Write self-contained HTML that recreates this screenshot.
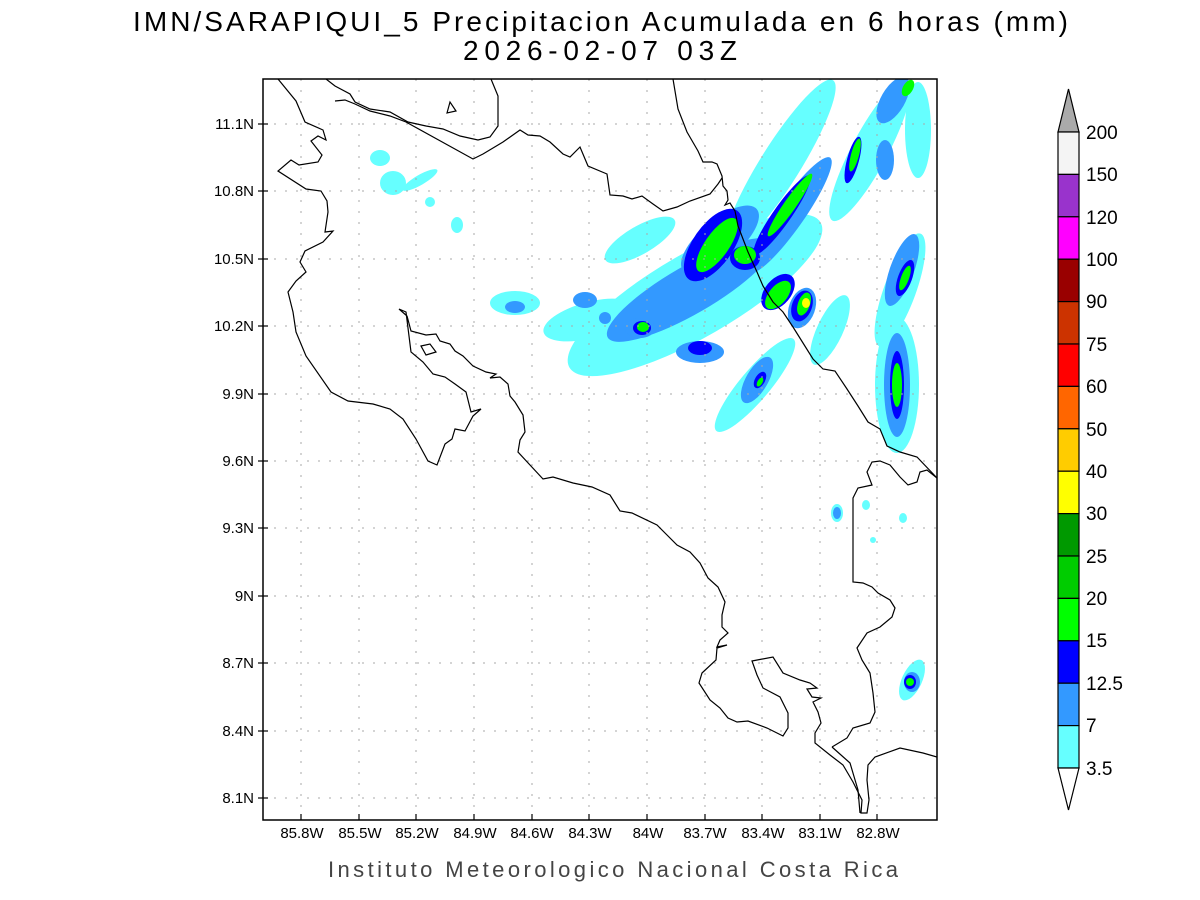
<!DOCTYPE html>
<html><head><meta charset="utf-8"><style>
html,body{margin:0;padding:0;background:#fff;}
svg{display:block;}
text{font-family:"Liberation Sans",sans-serif;fill:#000;}
</style></head><body>
<svg width="1200" height="900" viewBox="0 0 1200 900" xmlns="http://www.w3.org/2000/svg">
<rect width="1200" height="900" fill="#fff"/>
<text x="133" y="31" font-size="28" textLength="935" lengthAdjust="spacing">IMN/SARAPIQUI_5 Precipitacion Acumulada en 6 horas (mm)</text>
<text x="463" y="60" font-size="28" textLength="274" lengthAdjust="spacing">2026-02-07 03Z</text>
<defs><clipPath id="c"><rect x="263" y="79" width="674" height="741"/></clipPath></defs>
<g clip-path="url(#c)">
<g fill="#66ffff">
<ellipse cx="695" cy="295" rx="145" ry="42" transform="rotate(-30 695 295)"/>
<ellipse cx="640" cy="240" rx="40" ry="14" transform="rotate(-30 640 240)"/>
<ellipse cx="780" cy="165" rx="100" ry="20" transform="rotate(-58 780 165)"/>
<ellipse cx="870" cy="150" rx="80" ry="18" transform="rotate(-62 870 150)"/>
<ellipse cx="900" cy="290" rx="60" ry="16" transform="rotate(-70 900 290)"/>
<ellipse cx="897" cy="385" rx="22" ry="68"/>
<ellipse cx="755" cy="385" rx="60" ry="15" transform="rotate(-50 755 385)"/>
<ellipse cx="590" cy="320" rx="48" ry="18" transform="rotate(-15 590 320)"/>
<ellipse cx="515" cy="303" rx="25" ry="12"/>
<ellipse cx="918" cy="130" rx="13" ry="48"/>
<ellipse cx="830" cy="330" rx="13" ry="38" transform="rotate(25 830 330)"/>
<ellipse cx="380" cy="158" rx="10" ry="8"/>
<ellipse cx="393" cy="183" rx="13" ry="12"/>
<ellipse cx="420" cy="180" rx="20" ry="5" transform="rotate(-30 420 180)"/>
<ellipse cx="430" cy="202" rx="5" ry="5"/>
<ellipse cx="457" cy="225" rx="6" ry="8"/>
<ellipse cx="912" cy="680" rx="10" ry="22" transform="rotate(25 912 680)"/>
<ellipse cx="837" cy="513" rx="6" ry="9"/>
<ellipse cx="866" cy="505" rx="4" ry="5"/>
<ellipse cx="903" cy="518" rx="4" ry="5"/>
<ellipse cx="873" cy="540" rx="3" ry="3"/>
</g>
<g fill="#3399ff">
<ellipse cx="690" cy="290" rx="95" ry="24" transform="rotate(-30 690 290)"/>
<ellipse cx="720" cy="240" rx="48" ry="20" transform="rotate(-40 720 240)"/>
<ellipse cx="790" cy="215" rx="70" ry="14" transform="rotate(-55 790 215)"/>
<ellipse cx="897" cy="385" rx="13" ry="52"/>
<ellipse cx="902" cy="270" rx="12" ry="38" transform="rotate(20 902 270)"/>
<ellipse cx="885" cy="160" rx="9" ry="20"/>
<ellipse cx="893" cy="100" rx="12" ry="26" transform="rotate(30 893 100)"/>
<ellipse cx="700" cy="352" rx="24" ry="11"/>
<ellipse cx="585" cy="300" rx="12" ry="8"/>
<ellipse cx="515" cy="307" rx="10" ry="6"/>
<ellipse cx="605" cy="318" rx="6" ry="6"/>
<ellipse cx="640" cy="328" rx="15" ry="10"/>
<ellipse cx="802" cy="308" rx="13" ry="21" transform="rotate(20 802 308)"/>
<ellipse cx="757" cy="380" rx="11" ry="26" transform="rotate(30 757 380)"/>
<ellipse cx="837" cy="513" rx="4" ry="6"/>
<ellipse cx="912" cy="682" rx="8" ry="10"/>
</g>
<g fill="#0000ff">
<ellipse cx="713" cy="245" rx="20" ry="42" transform="rotate(35 713 245)"/>
<ellipse cx="782" cy="215" rx="9" ry="48" transform="rotate(35 782 215)"/>
<ellipse cx="802" cy="306" rx="10" ry="16" transform="rotate(20 802 306)"/>
<ellipse cx="897" cy="385" rx="7" ry="34"/>
<ellipse cx="853" cy="160" rx="6" ry="24" transform="rotate(15 853 160)"/>
<ellipse cx="905" cy="278" rx="7" ry="19" transform="rotate(20 905 278)"/>
<ellipse cx="700" cy="348" rx="12" ry="7"/>
<ellipse cx="642" cy="328" rx="9" ry="7"/>
<ellipse cx="760" cy="380" rx="5" ry="9" transform="rotate(30 760 380)"/>
<ellipse cx="745" cy="258" rx="15" ry="12"/>
<ellipse cx="778" cy="292" rx="13" ry="21" transform="rotate(40 778 292)"/>
<ellipse cx="910" cy="682" rx="6" ry="7"/>
</g>
<g fill="#00ff00">
<ellipse cx="717" cy="245" rx="12" ry="32" transform="rotate(35 717 245)"/>
<ellipse cx="745" cy="255" rx="11" ry="9"/>
<ellipse cx="790" cy="205" rx="6" ry="38" transform="rotate(35 790 205)"/>
<ellipse cx="778" cy="295" rx="9" ry="17" transform="rotate(40 778 295)"/>
<ellipse cx="897" cy="385" rx="5" ry="22"/>
<ellipse cx="855" cy="155" rx="4" ry="17" transform="rotate(15 855 155)"/>
<ellipse cx="905" cy="278" rx="4" ry="13" transform="rotate(20 905 278)"/>
<ellipse cx="804" cy="304" rx="6" ry="12" transform="rotate(20 804 304)"/>
<ellipse cx="643" cy="327" rx="6" ry="5"/>
<ellipse cx="910" cy="682" rx="4" ry="4"/>
<ellipse cx="908" cy="88" rx="5" ry="9" transform="rotate(30 908 88)"/>
<ellipse cx="760" cy="382" rx="2.5" ry="5" transform="rotate(30 760 382)"/>
</g>
<ellipse cx="806" cy="303" rx="4" ry="5" fill="#ffff00"/>
<g stroke="#aaa" stroke-width="1" stroke-dasharray="2,9">
<line x1="301" y1="79" x2="301" y2="820"/><line x1="359" y1="79" x2="359" y2="820"/><line x1="416" y1="79" x2="416" y2="820"/><line x1="474" y1="79" x2="474" y2="820"/><line x1="532" y1="79" x2="532" y2="820"/><line x1="589" y1="79" x2="589" y2="820"/><line x1="647" y1="79" x2="647" y2="820"/><line x1="705" y1="79" x2="705" y2="820"/><line x1="762" y1="79" x2="762" y2="820"/><line x1="820" y1="79" x2="820" y2="820"/><line x1="877" y1="79" x2="877" y2="820"/>
<line x1="263" y1="124" x2="937" y2="124"/><line x1="263" y1="191" x2="937" y2="191"/><line x1="263" y1="259" x2="937" y2="259"/><line x1="263" y1="326" x2="937" y2="326"/><line x1="263" y1="394" x2="937" y2="394"/><line x1="263" y1="461" x2="937" y2="461"/><line x1="263" y1="528" x2="937" y2="528"/><line x1="263" y1="596" x2="937" y2="596"/><line x1="263" y1="663" x2="937" y2="663"/><line x1="263" y1="731" x2="937" y2="731"/><line x1="263" y1="798" x2="937" y2="798"/>
</g>
<g fill="none" stroke="#000" stroke-width="1.2">
<polyline points="278,79 296,101 305,122 323,130 326,140 318,136 311,141 322,155 318,162 299,165 291,160 278,171 306,189 321,191 327,201 328,212 325,232 333,231 323,242 305,251 300,262 306,272 296,281 288,292 293,312 296,332 306,356 331,392 348,401 373,404 390,409 403,419 416,439 428,461 437,465 445,444 452,439 455,429 465,431 473,416 481,409 471,412 466,392 455,384 445,377 433,374 423,362 411,352 406,312 399,309 407,316 411,331 426,335 436,334 440,341 450,344 455,351 463,356 473,366 486,372 496,374 490,378 500,377 508,384 510,396 515,402 523,415 525,432 520,440 518,452 530,465 543,479 553,477 573,483 592,487 610,495 620,511 632,513 657,525 667,535 677,545 690,552 700,563 708,578 718,587 725,602 722,615 722,627 728,633 720,640 717,647 727,645 717,648 716,660 702,673 699,683 710,700 720,708 728,718 737,722 748,721 767,728 783,736 788,728 788,713 780,697 763,688 757,675 752,661 773,657 783,673 800,680 810,683 817,688 807,689 812,697 821,698 813,702 818,712 821,723 815,733 815,743 830,755 843,765 853,782 862,800 861,813 867,813 869,800 867,780 868,765 875,757 900,748 923,753 937,757"/>
<polyline points="832,747 847,738 853,728 870,723 875,712 873,693 870,673 862,660 857,648 867,633 880,627 892,617 895,608 890,600 878,593 872,587 863,583 853,582 853,498 858,488 872,485 867,472 872,462 880,461 890,465 900,477 908,485 917,482 920,472 927,470 937,478"/>
<polyline points="832,747 850,763 858,790 860,813"/>
<polyline points="326,79 335,86 350,94 355,102 370,109 390,112 408,122 426,126 443,129 460,136 478,140 490,137 498,126 498,96 491,79"/>
<polyline points="335,101 345,100 355,104 370,111 390,116 406,122 473,159 483,154 503,142 520,130 528,135 540,136 550,142 563,154 570,157 580,147 588,166 607,174 610,195 623,196 632,199 642,196 653,204 663,211 677,207 690,201 710,194 718,184 722,178"/>
<polyline points="673,79 678,109 687,132 698,151 703,162 712,162 717,164 722,176 723,186 727,191 728,200 725,205 730,203 735,211 738,226 743,239 748,252 757,272 763,286 773,302 783,312 793,327 813,359 823,369 835,371 847,389 858,406 868,422 880,429 887,446 900,452 917,457 937,478"/>
<polygon points="447,113 450,102 456,111"/>
<polygon points="421,346 430,344 436,352 426,355"/>
</g>
</g>
<rect x="263" y="79" width="674" height="741" fill="none" stroke="#000" stroke-width="1.5"/>
<g stroke="#000" stroke-width="1.2">
<line x1="301" y1="820" x2="301" y2="814"/><line x1="359" y1="820" x2="359" y2="814"/><line x1="416" y1="820" x2="416" y2="814"/><line x1="474" y1="820" x2="474" y2="814"/><line x1="532" y1="820" x2="532" y2="814"/><line x1="589" y1="820" x2="589" y2="814"/><line x1="647" y1="820" x2="647" y2="814"/><line x1="705" y1="820" x2="705" y2="814"/><line x1="762" y1="820" x2="762" y2="814"/><line x1="820" y1="820" x2="820" y2="814"/><line x1="877" y1="820" x2="877" y2="814"/>
<line x1="258" y1="124" x2="268" y2="124"/><line x1="258" y1="191" x2="268" y2="191"/><line x1="258" y1="259" x2="268" y2="259"/><line x1="258" y1="326" x2="268" y2="326"/><line x1="258" y1="394" x2="268" y2="394"/><line x1="258" y1="461" x2="268" y2="461"/><line x1="258" y1="528" x2="268" y2="528"/><line x1="258" y1="596" x2="268" y2="596"/><line x1="258" y1="663" x2="268" y2="663"/><line x1="258" y1="731" x2="268" y2="731"/><line x1="258" y1="798" x2="268" y2="798"/>
</g>
<g font-size="15" text-anchor="middle">
<text x="302" y="838">85.8W</text><text x="360" y="838">85.5W</text><text x="417" y="838">85.2W</text><text x="475" y="838">84.9W</text><text x="532" y="838">84.6W</text><text x="590" y="838">84.3W</text><text x="648" y="838">84W</text><text x="705" y="838">83.7W</text><text x="763" y="838">83.4W</text><text x="820" y="838">83.1W</text><text x="878" y="838">82.8W</text>
</g>
<g font-size="15" text-anchor="end">
<text x="254" y="129">11.1N</text><text x="254" y="196">10.8N</text><text x="254" y="264">10.5N</text><text x="254" y="331">10.2N</text><text x="254" y="399">9.9N</text><text x="254" y="466">9.6N</text><text x="254" y="533">9.3N</text><text x="254" y="601">9N</text><text x="254" y="668">8.7N</text><text x="254" y="736">8.4N</text><text x="254" y="803">8.1N</text>
</g>
<text x="328" y="877" font-size="22" textLength="570" lengthAdjust="spacing" style="fill:#444">Instituto Meteorologico Nacional Costa Rica</text>
<g stroke="#000" stroke-width="1.2">
<polygon points="1058,132 1079,132 1068.5,89" fill="#aaaaaa"/>
<rect x="1058" y="132" width="21" height="42.4" fill="#f4f4f4"/>
<rect x="1058" y="174.4" width="21" height="42.4" fill="#9933cc"/>
<rect x="1058" y="216.8" width="21" height="42.4" fill="#ff00ff"/>
<rect x="1058" y="259.2" width="21" height="42.4" fill="#990000"/>
<rect x="1058" y="301.6" width="21" height="42.4" fill="#cc3300"/>
<rect x="1058" y="344" width="21" height="42.4" fill="#ff0000"/>
<rect x="1058" y="386.4" width="21" height="42.4" fill="#ff6600"/>
<rect x="1058" y="428.8" width="21" height="42.4" fill="#ffcc00"/>
<rect x="1058" y="471.2" width="21" height="42.4" fill="#ffff00"/>
<rect x="1058" y="513.6" width="21" height="42.4" fill="#009900"/>
<rect x="1058" y="556" width="21" height="42.4" fill="#00cc00"/>
<rect x="1058" y="598.4" width="21" height="42.4" fill="#00ff00"/>
<rect x="1058" y="640.8" width="21" height="42.4" fill="#0000ff"/>
<rect x="1058" y="683.2" width="21" height="42.4" fill="#3399ff"/>
<rect x="1058" y="725.6" width="21" height="42.4" fill="#66ffff"/>
<polygon points="1058,768 1079,768 1068.5,810" fill="#fff"/>
</g>
<g font-size="19">
<text x="1086" y="139">200</text><text x="1086" y="181">150</text><text x="1086" y="224">120</text><text x="1086" y="266">100</text><text x="1086" y="308">90</text><text x="1086" y="351">75</text><text x="1086" y="393">60</text><text x="1086" y="436">50</text><text x="1086" y="478">40</text><text x="1086" y="520">30</text><text x="1086" y="563">25</text><text x="1086" y="605">20</text><text x="1086" y="647">15</text><text x="1086" y="690">12.5</text><text x="1086" y="732">7</text><text x="1086" y="775">3.5</text>
</g>
</svg>
</body></html>
